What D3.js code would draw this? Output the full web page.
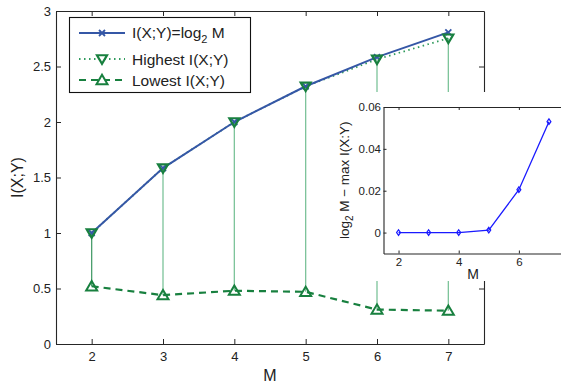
<!DOCTYPE html>
<html><head><meta charset="utf-8">
<script src="https://cdn.jsdelivr.net/npm/d3@7"></script>
<style>
html,body{margin:0;padding:0;background:#fff;}
svg{display:block;font-family:"Liberation Sans",Arial,Helvetica,sans-serif;}
</style></head>
<body><svg id="c" width="561" height="384"></svg>
<script>
// ---- data ----
const M = [2, 3, 4, 5, 6, 7];
const log2M = [1, 1.585, 2, 2.3219, 2.585, 2.8074];
const highestI = [1, 1.585, 2, 2.3207, 2.5645, 2.7544];
const lowestI = [0.52, 0.44, 0.48, 0.47, 0.31, 0.30];
const gap = [0, 0, 0, 0.0012, 0.0205, 0.053];
const mainYTicks = [0, 0.5, 1, 1.5, 2, 2.5, 3];
const mainXTicks = [2, 3, 4, 5, 6, 7];
const insetXTicks = [2, 4, 6];
const insetYTicks = [0, 0.02, 0.04, 0.06];

const svg = d3.select("#c");
const blue = "#3557a6", green = "#18803f", stemCol = "#7cc39a", axisCol = "#262626";

// ---- main axes ----
const L = 56, R = 484, T = 11, B = 344;
const x = d3.scaleLinear().domain([1.5, 7.5]).range([L, R]);
const y = d3.scaleLinear().domain([0, 3]).range([B, T]);

const g = svg.append("g");
// stems
g.selectAll("line.stem").data(M).enter().append("line")
  .attr("x1", (d) => x(d)).attr("x2", (d) => x(d))
  .attr("y1", (d, i) => y(highestI[i])).attr("y2", (d, i) => y(lowestI[i]))
  .attr("stroke", (d, i) => i === 0 ? "#4a9e6c" : stemCol).attr("stroke-width", 1.3);

function axesBox(gg, xs, ys, xt, yt, fs, fmtY, tick, padX, padY) {
  const [x0, x1] = xs.range(), [y0, y1] = ys.range();
  gg.append("g").attr("transform", `translate(0,${y0})`)
    .call(d3.axisBottom(xs).tickValues(xt).tickSizeInner(-tick).tickSizeOuter(0).tickPadding(padX).tickFormat(d3.format("d")));
  gg.append("g").attr("transform", `translate(0,${y1})`)
    .call(d3.axisTop(xs).tickValues(xt).tickSizeInner(-tick).tickSizeOuter(0).tickFormat(""));
  gg.append("g").attr("transform", `translate(${x0},0)`)
    .call(d3.axisLeft(ys).tickValues(yt).tickSizeInner(-tick).tickSizeOuter(0).tickPadding(padY).tickFormat(fmtY));
  gg.append("g").attr("transform", `translate(${x1},0)`)
    .call(d3.axisRight(ys).tickValues(yt).tickSizeInner(-tick).tickSizeOuter(0).tickFormat(""));
  gg.selectAll(".domain").attr("stroke", axisCol).attr("stroke-width", 1.1);
  gg.selectAll(".tick line").attr("stroke", axisCol);
  gg.selectAll(".tick text").attr("font-size", fs).attr("fill", "#222").attr("font-family", null);
}
const ag = svg.append("g");
axesBox(ag, x, y, mainXTicks, mainYTicks, 13, (d) => d3.format("")(d), 5, 8, 5);
ag.append("text").attr("x", x(4.5)).attr("y", 381).attr("text-anchor", "middle")
  .attr("font-size", 16).attr("fill", "#222").text("M");
ag.append("text").attr("transform", `translate(23,${(T + B) / 2}) rotate(-90)`)
  .attr("text-anchor", "middle").attr("font-size", 16).attr("fill", "#222").text("I(X;Y)");

// lines
const lineMain = d3.line().x((d, i) => x(M[i])).y((d) => y(d));
const pg = svg.append("g");
pg.append("path").datum(highestI).attr("d", lineMain).attr("fill", "none")
  .attr("stroke", "#2f9a5c").attr("stroke-width", 1.8).attr("stroke-dasharray", "1.5,3.5");
pg.append("path").datum(lowestI).attr("d", lineMain).attr("fill", "none")
  .attr("stroke", green).attr("stroke-width", 2.2).attr("stroke-dasharray", "7,5");
pg.append("path").datum(log2M).attr("d", lineMain).attr("fill", "none")
  .attr("stroke", blue).attr("stroke-width", 2);

function triDown(cx, cy, s) { return `M${cx - s},${cy - s * 0.75}L${cx + s},${cy - s * 0.75}L${cx},${cy + s * 0.95}Z`; }
function triUp(cx, cy, s) { return `M${cx - s},${cy + s * 0.75}L${cx + s},${cy + s * 0.75}L${cx},${cy - s * 0.95}Z`; }
function xMark(cx, cy, s) { return `M${cx - s},${cy - s}L${cx + s},${cy + s}M${cx - s},${cy + s}L${cx + s},${cy - s}`; }

pg.selectAll("path.xm").data(log2M).enter().append("path")
  .attr("d", (d, i) => xMark(x(M[i]), y(d), 3)).attr("stroke", blue).attr("stroke-width", 1.8).attr("fill", "none");
pg.selectAll("path.hi").data(highestI).enter().append("path")
  .attr("d", (d, i) => triDown(x(M[i]), y(d), 5)).attr("stroke", green).attr("stroke-width", 2.2).attr("fill", "none");
pg.selectAll("path.lo").data(lowestI).enter().append("path")
  .attr("d", (d, i) => triUp(x(M[i]), y(d), 5.5)).attr("stroke", green).attr("stroke-width", 2).attr("fill", "none");

// legend
const lg = svg.append("g");
lg.append("rect").attr("x", 69.5).attr("y", 17.5).attr("width", 181).attr("height", 75)
  .attr("fill", "#fff").attr("stroke", "#111").attr("stroke-width", 1.1);
const rows = [33, 59, 80];
lg.append("line").attr("x1", 79).attr("x2", 125).attr("y1", rows[0]).attr("y2", rows[0]).attr("stroke", blue).attr("stroke-width", 2);
lg.append("path").attr("d", xMark(102, rows[0], 3)).attr("stroke", blue).attr("stroke-width", 1.8);
lg.append("line").attr("x1", 79).attr("x2", 125).attr("y1", rows[1]).attr("y2", rows[1]).attr("stroke", "#2f9a5c").attr("stroke-width", 1.8).attr("stroke-dasharray", "1.5,3.5");
lg.append("path").attr("d", triDown(102, rows[1], 5)).attr("stroke", green).attr("stroke-width", 2.2).attr("fill", "#fff");
lg.append("line").attr("x1", 79).attr("x2", 125).attr("y1", rows[2]).attr("y2", rows[2]).attr("stroke", green).attr("stroke-width", 2.2).attr("stroke-dasharray", "7,5");
lg.append("path").attr("d", triUp(102, rows[2], 5.5)).attr("stroke", green).attr("stroke-width", 2).attr("fill", "#fff");
const t0 = lg.append("text").attr("x", 132).attr("y", rows[0] + 5).attr("font-size", 15.5).attr("fill", "#222");
t0.append("tspan").text("I(X;Y)=log");
t0.append("tspan").attr("font-size", 11).attr("dy", 5).text("2");
t0.append("tspan").attr("dy", -5).text(" M");
lg.append("text").attr("x", 132).attr("y", rows[1] + 6).attr("font-size", 15.5).attr("fill", "#222").text("Highest I(X;Y)");
lg.append("text").attr("x", 132).attr("y", rows[2] + 6).attr("font-size", 15.5).attr("fill", "#222").text("Lowest I(X;Y)");

// ---- inset ----
const ig = svg.append("g");
ig.append("rect").attr("x", 332).attr("y", 92).attr("width", 229).attr("height", 189).attr("fill", "#fff");
const xi = d3.scaleLinear().domain([1.5, 7.5]).range([383.5, 564]);
const yi = d3.scaleLinear().domain([-0.01, 0.06]).range([253.5, 107]);
axesBox(ig, xi, yi, insetXTicks, insetYTicks, 11.5, (d) => d === 0 ? "0" : d3.format(".2f")(d), 3, 4, 2.5);
ig.append("path").datum(gap)
  .attr("d", d3.line().x((d, i) => xi(M[i])).y((d) => yi(d)))
  .attr("fill", "none").attr("stroke", "#1a1aff").attr("stroke-width", 1.3);
ig.selectAll("path.dm").data(gap).enter().append("path")
  .attr("d", (d, i) => { const cx = xi(M[i]), cy = yi(d), s = 2.8; return `M${cx},${cy - s}L${cx + s * 0.7},${cy}L${cx},${cy + s}L${cx - s * 0.7},${cy}Z`; })
  .attr("fill", "none").attr("stroke", "#1a1aff").attr("stroke-width", 1.2);
ig.append("text").attr("x", 473).attr("y", 279).attr("text-anchor", "middle")
  .attr("font-size", 14).attr("fill", "#222").text("M");
const yl = ig.append("text").attr("transform", `translate(349,${(107 + 253.5) / 2}) rotate(-90)`)
  .attr("text-anchor", "middle").attr("font-size", 13.5).attr("fill", "#222");
yl.append("tspan").text("log");
yl.append("tspan").attr("font-size", 10).attr("dy", 4).text("2");
yl.append("tspan").attr("dy", -4).text(" M \u2212 max I(X:Y)");
</script></body></html>
